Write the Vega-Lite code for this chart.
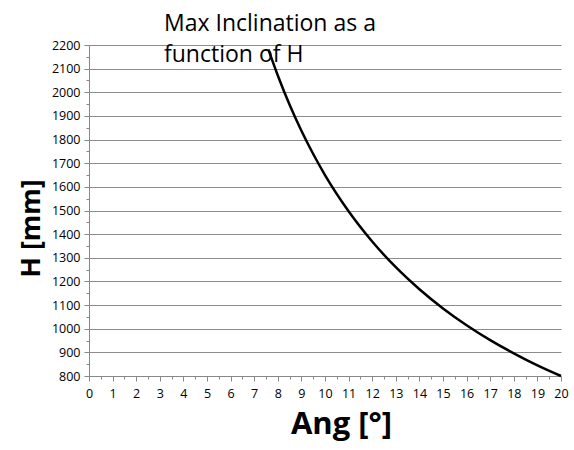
{
  "$schema": "https://vega.github.io/schema/vega-lite/v6.json",
  "width": 472,
  "height": 331,
  "autosize": "none",
  "padding": {"left": 89, "top": 45, "right": 13, "bottom": 74},
  "background": "white",
  "title": {
    "text": ["Max Inclination as a", "function of H"],
    "anchor": "start",
    "frame": "group",
    "dx": 75,
    "offset": -28,
    "font": "Open Sans",
    "fontSize": 23,
    "fontWeight": "normal",
    "color": "#000000",
    "lineHeight": 31
  },
  "data": {
    "values": [
      {"ang": 7.6, "h": 2181},
      {"ang": 8, "h": 2071},
      {"ang": 8.5, "h": 1947},
      {"ang": 9, "h": 1837},
      {"ang": 9.5, "h": 1739},
      {"ang": 10, "h": 1650},
      {"ang": 11, "h": 1497},
      {"ang": 12, "h": 1369},
      {"ang": 13, "h": 1260},
      {"ang": 14, "h": 1167},
      {"ang": 15, "h": 1086},
      {"ang": 16, "h": 1015},
      {"ang": 17, "h": 952},
      {"ang": 18, "h": 896},
      {"ang": 19, "h": 845},
      {"ang": 20, "h": 800}
    ]
  },
  "resolve": {"axis": {"x": "independent", "y": "independent"}},
  "layer": [
    {
      "mark": {"type": "line", "strokeOpacity": 0},
      "encoding": {
        "x": {
          "field": "ang",
          "type": "quantitative",
          "scale": {"domain": [0, 20], "nice": false, "zero": false},
          "axis": {
            "orient": "bottom",
            "values": [0.5,1.5,2.5,3.5,4.5,5.5,6.5,7.5,8.5,9.5,10.5,11.5,12.5,13.5,14.5,15.5,16.5,17.5,18.5,19.5],
            "labels": false,
            "title": null,
            "grid": false,
            "domain": false,
            "tickColor": "#888888",
            "tickSize": 3
          }
        },
        "y": {
          "field": "h",
          "type": "quantitative",
          "scale": {"domain": [800, 2200], "nice": false, "zero": false},
          "axis": {
            "orient": "left",
            "values": [850,950,1050,1150,1250,1350,1450,1550,1650,1750,1850,1950,2050,2150],
            "labels": false,
            "title": null,
            "grid": false,
            "domain": false,
            "tickColor": "#888888",
            "tickSize": 3
          }
        }
      }
    },
    {
      "mark": {"type": "line", "color": "#000000", "strokeWidth": 2.5, "interpolate": "monotone"},
      "encoding": {
        "x": {
          "field": "ang",
          "type": "quantitative",
          "scale": {"domain": [0, 20], "nice": false, "zero": false},
          "axis": {
            "orient": "bottom",
            "values": [0,1,2,3,4,5,6,7,8,9,10,11,12,13,14,15,16,17,18,19,20],
            "format": "d",
            "title": "Ang [°]",
            "titleFont": "Open Sans",
            "titleFontSize": 31,
            "titleFontWeight": "bold",
            "titleColor": "#000000",
            "titlePadding": 10,
            "titleX": 252,
            "labelFont": "Open Sans",
            "labelFontSize": 12.5,
            "labelColor": "#000000",
            "labelPadding": 6,
            "labelOverlap": false,
            "labelFlush": false,
            "grid": false,
            "domainColor": "#888888",
            "tickColor": "#888888",
            "tickSize": 5
          }
        },
        "y": {
          "field": "h",
          "type": "quantitative",
          "scale": {"domain": [800, 2200], "nice": false, "zero": false},
          "axis": {
            "orient": "left",
            "values": [800,900,1000,1100,1200,1300,1400,1500,1600,1700,1800,1900,2000,2100,2200],
            "format": "d",
            "title": "H [mm]",
            "titleFont": "Open Sans",
            "titleFontSize": 27,
            "titleFontWeight": "bold",
            "titleColor": "#000000",
            "titlePadding": 6,
            "titleY": 183,
            "labelFont": "Open Sans",
            "labelFontSize": 12.5,
            "labelColor": "#000000",
            "labelPadding": 4,
            "labelOverlap": false,
            "labelFlush": false,
            "grid": true,
            "gridColor": "#8c8c8c",
            "domainColor": "#888888",
            "tickColor": "#888888",
            "tickSize": 5
          }
        }
      }
    }
  ],
  "config": {"view": {"stroke": null}}
}
